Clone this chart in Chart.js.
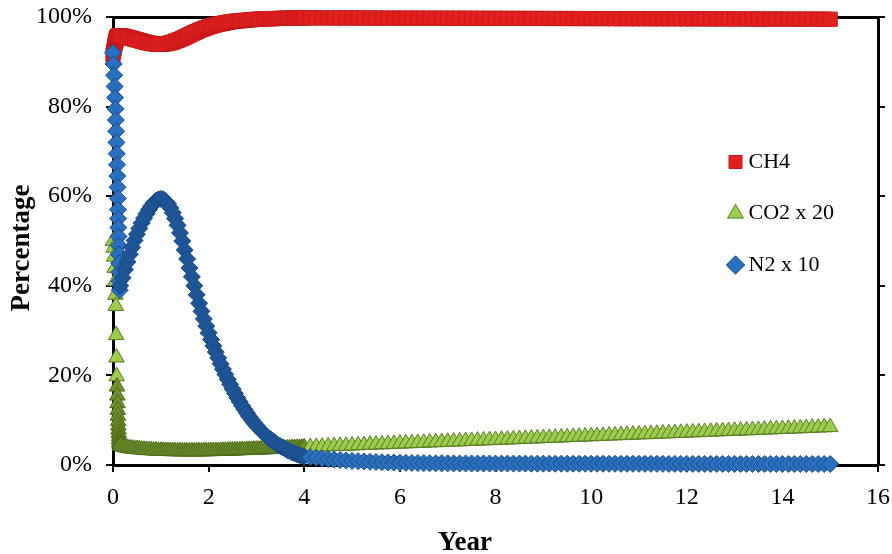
<!DOCTYPE html>
<html>
<head>
<meta charset="utf-8">
<title>Gas composition over time</title>
<script src="https://cdn.jsdelivr.net/npm/chart.js@4.4.1/dist/chart.umd.min.js"></script>
<style>
  html, body { margin: 0; padding: 0; background: #ffffff; }
  #wrap { width: 892px; height: 554px; }
</style>
</head>
<body>
<div id="wrap"><canvas id="chart" width="892" height="554"></canvas></div>
<script>
// Time axis (years): fine steps at start-up, then 1.5-month steps
const years = [
  0, 0.012, 0.024, 0.034, 0.044, 0.052, 0.06, 0.066, 0.072, 0.078, 0.084, 0.09,
  0.095, 0.1, 0.104, 0.108, 0.112, 0.116, 0.12, 0.124, 0.128, 0.132, 0.136, 0.14,
  0.15, 0.2, 0.25, 0.3, 0.35, 0.4, 0.45, 0.5, 0.55, 0.6,
  0.65, 0.7, 0.75, 0.8, 0.85, 0.9, 0.95, 1, 1.05, 1.1,
  1.15, 1.2, 1.25, 1.3, 1.35, 1.4, 1.45, 1.5, 1.55, 1.6,
  1.65, 1.7, 1.75, 1.8, 1.85, 1.9, 1.95, 2, 2.05, 2.1,
  2.15, 2.2, 2.25, 2.3, 2.35, 2.4, 2.45, 2.5, 2.55, 2.6,
  2.65, 2.7, 2.75, 2.8, 2.85, 2.9, 2.95, 3, 3.05, 3.1,
  3.15, 3.2, 3.25, 3.3, 3.35, 3.4, 3.45, 3.5, 3.55, 3.6,
  3.65, 3.7, 3.75, 3.8, 3.85, 3.9, 3.95, 4,
  4.125, 4.25, 4.375, 4.5, 4.625, 4.75, 4.875,
  5, 5.125, 5.25, 5.375, 5.5, 5.625, 5.75, 5.875,
  6, 6.125, 6.25, 6.375, 6.5, 6.625, 6.75, 6.875,
  7, 7.125, 7.25, 7.375, 7.5, 7.625, 7.75, 7.875,
  8, 8.125, 8.25, 8.375, 8.5, 8.625, 8.75, 8.875,
  9, 9.125, 9.25, 9.375, 9.5, 9.625, 9.75, 9.875,
  10, 10.125, 10.25, 10.375, 10.5, 10.625, 10.75, 10.875,
  11, 11.125, 11.25, 11.375, 11.5, 11.625, 11.75, 11.875,
  12, 12.125, 12.25, 12.375, 12.5, 12.625, 12.75, 12.875,
  13, 13.125, 13.25, 13.375, 13.5, 13.625, 13.75, 13.875,
  14, 14.125, 14.25, 14.375, 14.5, 14.625, 14.75, 14.875,
  15
];

// Methane share (%)
const ch4 = [
  91.5, 92.2, 92.9, 93.5, 94.0, 94.4, 94.7, 95.0, 95.2, 95.35, 95.45, 95.55,
  95.6, 95.65, 95.7, 95.72, 95.74, 95.76, 95.78, 95.8, 95.8, 95.82, 95.82, 95.84,
  95.8, 95.75, 95.65, 95.5, 95.35, 95.2, 95.05, 94.9, 94.75, 94.6,
  94.45, 94.3, 94.2, 94.1, 94.0, 93.95, 93.9, 93.9, 93.95, 94.0,
  94.1, 94.25, 94.4, 94.6, 94.8, 95.0, 95.25, 95.5, 95.75, 96.0,
  96.25, 96.5, 96.75, 97.0, 97.2, 97.4, 97.6, 97.8, 97.95, 98.1,
  98.25, 98.4, 98.5, 98.6, 98.7, 98.8, 98.9, 99.0, 99.05, 99.1,
  99.15, 99.2, 99.25, 99.3, 99.35, 99.4, 99.45, 99.5, 99.5, 99.55,
  99.55, 99.6, 99.6, 99.62, 99.64, 99.66, 99.68, 99.7, 99.7, 99.72,
  99.72, 99.74, 99.74, 99.76, 99.76, 99.78, 99.78, 99.8,
  99.8, 99.8, 99.8, 99.79, 99.79, 99.79, 99.78,
  99.78, 99.78, 99.77, 99.77, 99.77, 99.76, 99.76, 99.76,
  99.75, 99.75, 99.75, 99.74, 99.74, 99.74, 99.73, 99.73,
  99.73, 99.72, 99.72, 99.72, 99.71, 99.71, 99.71, 99.7,
  99.7, 99.7, 99.69, 99.69, 99.69, 99.68, 99.68, 99.68,
  99.67, 99.67, 99.67, 99.66, 99.66, 99.66, 99.65, 99.65,
  99.65, 99.64, 99.64, 99.64, 99.63, 99.63, 99.63, 99.62,
  99.62, 99.62, 99.61, 99.61, 99.61, 99.6, 99.6, 99.6,
  99.59, 99.59, 99.59, 99.58, 99.58, 99.58, 99.57, 99.57,
  99.57, 99.56, 99.56, 99.56, 99.55, 99.55, 99.55, 99.54,
  99.54, 99.54, 99.53, 99.53, 99.53, 99.52, 99.52, 99.52,
  99.51
];

// Carbon dioxide share, multiplied by 20 (%)
const co2x20 = [
  50, 48.5, 46.5, 44, 41, 38, 35.5, 29, 24, 19.8, 17.5, 15.5,
  13.8, 12.3, 11, 9.8, 8.8, 7.9, 7.1, 6.4, 5.8, 5.3, 4.9, 4.6,
  4.3, 4.1, 3.95, 3.85, 3.75, 3.65, 3.6, 3.55, 3.5, 3.45,
  3.4, 3.36, 3.32, 3.28, 3.25, 3.22, 3.2, 3.18, 3.16, 3.14,
  3.12, 3.1, 3.09, 3.08, 3.07, 3.06, 3.05, 3.05, 3.04, 3.04,
  3.04, 3.04, 3.05, 3.05, 3.06, 3.07, 3.08, 3.09, 3.1, 3.11,
  3.12, 3.14, 3.15, 3.17, 3.18, 3.2, 3.22, 3.24, 3.26, 3.28,
  3.3, 3.32, 3.34, 3.36, 3.38, 3.4, 3.42, 3.44, 3.46, 3.48,
  3.5, 3.52, 3.54, 3.56, 3.58, 3.6, 3.62, 3.64, 3.66, 3.68,
  3.7, 3.73, 3.76, 3.79, 3.82, 3.85, 3.88, 3.92,
  4.00, 4.05, 4.10, 4.15, 4.21, 4.26, 4.31,
  4.36, 4.41, 4.46, 4.51, 4.56, 4.62, 4.67, 4.72,
  4.77, 4.82, 4.87, 4.92, 4.97, 5.03, 5.08, 5.13,
  5.18, 5.23, 5.28, 5.33, 5.38, 5.44, 5.49, 5.54,
  5.59, 5.64, 5.69, 5.74, 5.79, 5.85, 5.90, 5.95,
  6.00, 6.05, 6.10, 6.15, 6.20, 6.26, 6.31, 6.36,
  6.41, 6.46, 6.51, 6.56, 6.61, 6.67, 6.72, 6.77,
  6.82, 6.87, 6.92, 6.97, 7.02, 7.08, 7.13, 7.18,
  7.23, 7.28, 7.33, 7.38, 7.43, 7.49, 7.54, 7.59,
  7.64, 7.69, 7.74, 7.79, 7.84, 7.90, 7.95, 8.00,
  8.05, 8.10, 8.15, 8.20, 8.25, 8.31, 8.36, 8.41,
  8.46
];

// Nitrogen share, multiplied by 10 (%)
const n2x10 = [
  92, 89.5, 87, 84.5, 82, 79.5, 77, 74.5, 72, 69.5, 67, 64.5,
  62, 59.5, 57, 55, 53, 51, 49, 47, 45, 43, 41, 39,
  40, 41.8, 43.6, 45.3, 47, 48.6, 50.1, 51.5, 52.8, 54,
  55.1, 56.1, 57, 57.8, 58.5, 59, 59.3, 59.4, 59.3, 58.9,
  58.3, 57.4, 56.3, 55, 53.5, 51.8, 50, 48, 46, 44,
  42, 40, 38, 36.1, 34.3, 32.6, 31, 29.5, 28, 26.6,
  25.2, 23.9, 22.6, 21.4, 20.2, 19.1, 18, 17, 16, 15,
  14.1, 13.2, 12.4, 11.6, 10.8, 10.1, 9.4, 8.8, 8.2, 7.6,
  7.1, 6.6, 6.1, 5.7, 5.3, 4.9, 4.5, 4.2, 3.9, 3.6,
  3.3, 3.1, 2.8, 2.6, 2.4, 2.2, 2.0, 1.9,
  1.75, 1.6, 1.46, 1.33, 1.21, 1.1, 1.0,
  0.92, 0.85, 0.78, 0.72, 0.67, 0.62, 0.58, 0.54,
  0.51, 0.48, 0.46, 0.44, 0.42, 0.4, 0.39, 0.38,
  0.37, 0.36, 0.35, 0.35, 0.34, 0.34, 0.33, 0.33,
  0.32, 0.32, 0.32, 0.31, 0.31, 0.31, 0.3, 0.3,
  0.3, 0.3, 0.29, 0.29, 0.29, 0.29, 0.28, 0.28,
  0.28, 0.28, 0.28, 0.27, 0.27, 0.27, 0.27, 0.27,
  0.26, 0.26, 0.26, 0.26, 0.26, 0.25, 0.25, 0.25,
  0.25, 0.25, 0.25, 0.24, 0.24, 0.24, 0.24, 0.24,
  0.24, 0.23, 0.23, 0.23, 0.23, 0.23, 0.23, 0.22,
  0.22, 0.22, 0.22, 0.22, 0.22, 0.22, 0.21, 0.21,
  0.21
];

const seriesNames = ['CH4', 'CO2 x 20', 'N2 x 10'];
const xTicks = [0, 2, 4, 6, 8, 10, 12, 14, 16];
const yTicks = [0, 20, 40, 60, 80, 100];
const yTickLabels = ['0%', '20%', '40%', '60%', '80%', '100%'];
const xTitle = 'Year';
const yTitle = 'Percentage';

const SERIF = "'Liberation Serif', 'Times New Roman', serif";

function toPoints(values) {
  return years.map((yr, i) => ({ x: yr, y: values[i] }));
}

// Markers packed tightly during the transient period read darker
function transientShade(lo, hi, dense, normal) {
  return (ctx) => {
    const p = ctx.raw;
    return p && p.x > lo && p.x < hi ? dense : normal;
  };
}

// Places the legend block inside the plot, right of centre
const legendPlacement = {
  id: 'legendPlacement',
  afterLayout(chart) {
    const lg = chart.legend;
    if (!lg) return;
    lg.left = 704;
    lg.top = 121.5;
    lg.right = 892;
    lg.bottom = 420;
    lg.width = lg.right - lg.left;
    lg.height = lg.bottom - lg.top;
  }
};

// Axis captions, set slightly off the plot centre
const axisCaptions = {
  id: 'axisCaptions',
  afterDraw(chart) {
    const ctx = chart.ctx;
    ctx.save();
    ctx.fillStyle = '#000000';
    ctx.font = "bold 27px " + SERIF;
    ctx.textAlign = 'center';
    ctx.textBaseline = 'middle';
    ctx.fillText(xTitle, 465, 543);
    ctx.translate(22, 248);
    ctx.rotate(-Math.PI / 2);
    ctx.fillText(yTitle, 0, 0);
    ctx.restore();
  }
};

// Keep edge labels from pushing the plot inward
const noEdgePadding = (s) => {
  s.paddingTop = 0; s.paddingBottom = 0; s.paddingLeft = 0; s.paddingRight = 0;
};

const axisBlack = '#000000';

new Chart(document.getElementById('chart'), {
  type: 'scatter',
  data: {
    datasets: [
      {
        label: seriesNames[0],
        data: toPoints(ch4),
        pointStyle: 'rect',
        pointRadius: 10,
        pointHoverRadius: 10,
        backgroundColor: '#e2201f',
        borderColor: '#c8191b',
        borderWidth: 1,
        order: 2,
        clip: false
      },
      {
        label: seriesNames[1],
        data: toPoints(co2x20),
        pointStyle: 'triangle',
        pointRadius: 9,
        pointHoverRadius: 9,
        backgroundColor: transientShade(0.08, 4.05, '#6e8f2c', '#9ccb4e'),
        borderColor: transientShade(0.08, 4.05, '#4d6a1a', '#5a7c22'),
        borderWidth: 1,
        order: 1,
        clip: false
      },
      {
        label: seriesNames[2],
        data: toPoints(n2x10),
        pointStyle: 'rectRot',
        pointRadius: 8.5,
        pointHoverRadius: 8.5,
        backgroundColor: transientShade(0.145, 4.05, '#1f5597', '#2a70bf'),
        borderColor: transientShade(0.145, 4.05, '#1a4a84', '#1c4c88'),
        borderWidth: 1,
        order: 0,
        clip: false
      }
    ]
  },
  options: {
    responsive: false,
    animation: false,
    events: [],
    layout: { padding: 0 },
    plugins: {
      tooltip: { enabled: false },
      legend: {
        position: 'chartArea',
        align: 'start',
        labels: {
          usePointStyle: true,
          boxWidth: 4,
          boxHeight: 13,
          padding: 29.5,
          color: axisBlack,
          font: { family: SERIF, size: 22 },
          sort: (a, b) => a.datasetIndex - b.datasetIndex
        }
      }
    },
    scales: {
      x: {
        type: 'linear',
        position: 'bottom',
        min: 0,
        max: 16,
        afterBuildTicks: (s) => { s.ticks = xTicks.map(v => ({ value: v })); },
        ticks: {
          color: axisBlack,
          padding: 11,
          font: { family: SERIF, size: 24 }
        },
        grid: { drawOnChartArea: false, color: axisBlack, lineWidth: 2, tickLength: 7 },
        border: { color: axisBlack, width: 3 },
        afterFit: (s) => { s.height = 89; noEdgePadding(s); }
      },
      xTop: {
        type: 'linear',
        axis: 'x',
        position: 'top',
        min: 0,
        max: 16,
        ticks: { display: false },
        grid: { display: false },
        border: { color: axisBlack, width: 3 },
        afterFit: (s) => { s.height = 17; noEdgePadding(s); }
      },
      y: {
        type: 'linear',
        position: 'left',
        min: 0,
        max: 100,
        afterBuildTicks: (s) => { s.ticks = yTicks.map(v => ({ value: v })); },
        ticks: {
          color: axisBlack,
          padding: 14,
          font: { family: SERIF, size: 24 },
          callback: (v) => yTickLabels[yTicks.indexOf(v)]
        },
        grid: { drawOnChartArea: false, color: axisBlack, lineWidth: 2, tickLength: 7 },
        border: { color: axisBlack, width: 3 },
        afterFit: (s) => { s.width = 113; noEdgePadding(s); }
      },
      yRight: {
        type: 'linear',
        axis: 'y',
        position: 'right',
        min: 0,
        max: 100,
        afterBuildTicks: (s) => { s.ticks = yTicks.map(v => ({ value: v })); },
        ticks: { display: false },
        grid: { drawOnChartArea: false, color: axisBlack, lineWidth: 2, tickLength: 7 },
        border: { color: axisBlack, width: 3 },
        afterFit: (s) => { s.width = 14; noEdgePadding(s); }
      }
    }
  },
  plugins: [legendPlacement, axisCaptions]
});
</script>
</body>
</html>
